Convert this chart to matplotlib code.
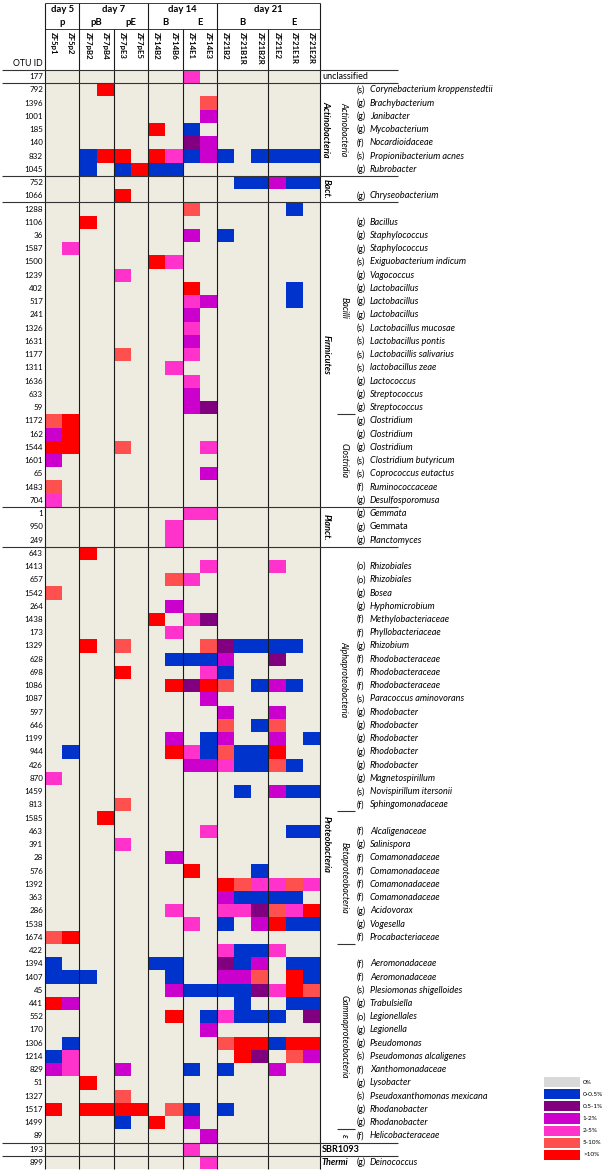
import numpy as np
import matplotlib
matplotlib.use('Agg')
import matplotlib.pyplot as plt
from matplotlib.colors import ListedColormap, BoundaryNorm

plt.rcParams['font.family'] = ['Lato', 'DejaVu Sans']

#%% Datos
days = ['day 5', 'day 7', 'day 14', 'day 21']
day_ncols = [2, 4, 4, 6]
treatments = ['p', 'pB', 'pE', 'B', 'E', 'B', 'E']
treatment_ncols = [2, 2, 2, 2, 2, 3, 3]
samples = ['ZF5p1', 'ZF5p2', 'ZF7pB2', 'ZF7pB4', 'ZF7pE3', 'ZF7pE5',
           'ZF14B2', 'ZF14B6', 'ZF14E1', 'ZF14E3',
           'ZF21B2', 'ZF21B1R', 'ZF21B2R', 'ZF21E2', 'ZF21E1R', 'ZF21E2R']

phyla = ['unclassified', 'Actinobacteria', 'Bact.', 'Firmicutes', 'Planct.',
         'Proteobacteria', 'SBR1093', 'Thermi']
phylum_nrows = [1, 7, 2, 23, 3, 45, 1, 1]

classes = ['', 'Actinobacteria', '', 'Bacilli', 'Clostridia', '',
           'Alphaproteobacteria', 'Betaproteobacteria', 'Gammaproteobacteria',
           'ε', '', '']
class_nrows = [1, 7, 2, 16, 7, 3, 20, 10, 14, 1, 1, 1]

otu_ids = ['177', '792', '1396', '1001', '185', '140', '832', '1045', '752', '1066',
           '1288', '1106', '36', '1587', '1500', '1239', '402', '517', '241', '1326',
           '1631', '1177', '1311', '1636', '633', '59', '1172', '162', '1544', '1601',
           '65', '1483', '704', '1', '950', '249', '643', '1413', '657', '1542',
           '264', '1438', '173', '1329', '628', '698', '1086', '1087', '597', '646',
           '1199', '944', '426', '870', '1459', '813', '1585', '463', '391', '28',
           '576', '1392', '363', '286', '1538', '1674', '422', '1394', '1407', '45',
           '441', '552', '170', '1306', '1214', '829', '51', '1327', '1517', '1499',
           '89', '193', '899']

ranks = ['', '(s)', '(g)', '(g)', '(g)', '(f)', '(s)', '(g)', '', '(g)',
         '', '(g)', '(g)', '(g)', '(s)', '(g)', '(g)', '(g)', '(g)', '(s)',
         '(s)', '(s)', '(s)', '(g)', '(g)', '(g)', '(g)', '(g)', '(g)', '(s)',
         '(s)', '(f)', '(g)', '(g)', '(g)', '(g)', '', '(o)', '(o)', '(g)',
         '(g)', '(f)', '(f)', '(g)', '(f)', '(f)', '(f)', '(s)', '(g)', '(g)',
         '(g)', '(g)', '(g)', '(g)', '(s)', '(f)', '', '(f)', '(g)', '(f)',
         '(f)', '(f)', '(f)', '(g)', '(g)', '(f)', '', '(f)', '(f)', '(s)',
         '(g)', '(o)', '(g)', '(g)', '(s)', '(f)', '(g)', '(s)', '(g)', '(g)',
         '(f)', '', '(g)']

taxa = ['', 'Corynebacterium kroppenstedtii', 'Brachybacterium', 'Janibacter',
        'Mycobacterium', 'Nocardioidaceae', 'Propionibacterium acnes', 'Rubrobacter',
        '', 'Chryseobacterium',
        '', 'Bacillus', 'Staphylococcus', 'Staphylococcus', 'Exiguobacterium indicum',
        'Vagococcus', 'Lactobacillus', 'Lactobacillus', 'Lactobacillus',
        'Lactobacillus mucosae', 'Lactobacillus pontis', 'Lactobacillis salivarius',
        'lactobacillus zeae', 'Lactococcus', 'Streptococcus', 'Streptococcus',
        'Clostridium', 'Clostridium', 'Clostridium', 'Clostridium butyricum',
        'Coprococcus eutactus', 'Ruminococcaceae', 'Desulfosporomusa',
        'Gemmata', 'Gemmata', 'Planctomyces',
        '', 'Rhizobiales', 'Rhizobiales', 'Bosea', 'Hyphomicrobium',
        'Methylobacteriaceae', 'Phyllobacteriaceae', 'Rhizobium', 'Rhodobacteraceae',
        'Rhodobacteraceae', 'Rhodobacteraceae', 'Paracoccus aminovorans', 'Rhodobacter',
        'Rhodobacter', 'Rhodobacter', 'Rhodobacter', 'Rhodobacter', 'Magnetospirillum',
        'Novispirillum itersonii', 'Sphingomonadaceae',
        '', 'Alcaligenaceae', 'Salinispora', 'Comamonadaceae', 'Comamonadaceae',
        'Comamonadaceae', 'Comamonadaceae', 'Acidovorax', 'Vogesella',
        'Procabacteriaceae',
        '', 'Aeromonadaceae', 'Aeromonadaceae', 'Plesiomonas shigelloides',
        'Trabulsiella', 'Legionellales', 'Legionella', 'Pseudomonas',
        'Pseudomonas alcaligenes', 'Xanthomonadaceae', 'Lysobacter',
        'Pseudoxanthomonas mexicana', 'Rhodanobacter', 'Rhodanobacter',
        'Helicobacteraceae', '', 'Deinococcus']
# el segundo Gemmata no esta en cursiva en la figura original
upright_taxa_rows = [34]

# clase de abundancia por muestra: 0=0%, 1=0-0.5%, 2=0.5-1%, 3=1-2%, 4=2-5%, 5=5-10%, 6=>10%
abundance = ['0000000040000000', '0006000000000000', '0000000005000000', '0000000003000000',
             '0000006010000000', '0000000023000000', '0016606413101111', '0010161100000000',
             '0000000000011311', '0000600000000000',
             '0000000050000010', '0060000000000000', '0000000030100000', '0400000000000000',
             '0000006400000000', '0000400000000000', '0000000060000010', '0000000043000010',
             '0000000030000000', '0000000040000000', '0000000030000000', '0000500040000000',
             '0000000400000000', '0000000040000000', '0000000030000000', '0000000032000000',
             '5600000000000000', '3600000000000000', '6600500004000000', '3000000000000000',
             '0000000003000000', '5000000000000000', '4000000000000000',
             '0000000044000000', '0000000400000000', '0000000400000000',
             '0060000000000000', '0000000004000400', '0000000540000000', '5000000000000000',
             '0000000300000000', '0000006042000000', '0000000400000000', '0060500005211110',
             '0000000111300200', '0000600004100000', '0000000626501310', '0000000003000000',
             '0000000000300300', '0000000000501500', '0000000301300301', '0100000641511600',
             '0000000033411510', '4000000000000000', '0000000000010311', '0000500000000000',
             '0006000000000000', '0000000004000011', '0000400000000000', '0000000300000000',
             '0000000060001000', '0000000000654454', '0000000000311110', '0000000400442546',
             '0000000040103611', '5600000000000000',
             '0000000000411400', '1000001100213011', '1110000100335061', '0000000311112465',
             '6300000000010011', '0000000601411102', '0000000003000000', '0100000000566166',
             '1400000000062053', '3400300010100300', '0060000000000000', '0000500000000000',
             '6066660510100000', '0000106030000000',
             '0000000003000000', '0000000040000000', '0000000004000000']

legend_labels = ['0%', '0-0.5%', '0.5-1%', '1-2%', '2-5%', '5-10%', '>10%']

#%% Estilo
cell_colors = ['#EEECE1', '#0033CC', '#800080', '#CC00CC', '#FF33CC', '#FF5050', '#FF0000']
legend_colors = ['#D9D9D9'] + cell_colors[1:]
cmap = ListedColormap(cell_colors)
norm = BoundaryNorm(np.arange(-0.5, 7.5, 1), cmap.N)

W, H = 609, 1172
left_px, right_px, top_px, bottom_px = 45, 320, 70, 1169
n_rows, n_cols = len(otu_ids), len(samples)
CW = (right_px - left_px) / n_cols
RH = (bottom_px - top_px) / n_rows

def xd(px):
    """pixel horizontal -> coordenada de datos"""
    return (px - left_px) / CW

def yd(py):
    """pixel vertical -> coordenada de datos"""
    return (py - top_px) / RH

fig = plt.figure(figsize=(W / 100, H / 100), dpi=100)
ax = fig.add_axes([left_px / W, 1 - bottom_px / H, (right_px - left_px) / W,
                   (bottom_px - top_px) / H])

matriz = np.array([[int(c) for c in fila] for fila in abundance])
ax.pcolormesh(np.arange(n_cols + 1), np.arange(n_rows + 1), matriz,
              cmap=cmap, norm=norm, shading='flat')
ax.set_xlim(0, n_cols)
ax.set_ylim(n_rows, 0)
ax.axis('off')

lc = '#1a1a1a'
y_top, y_sub = yd(2.5), yd(29)

# lineas verticales del encabezado y la grilla
day_bounds = np.concatenate([[0], np.cumsum(day_ncols)])
trt_bounds = np.concatenate([[0], np.cumsum(treatment_ncols)])
sub_only = [b for b in trt_bounds if b not in day_bounds]
ax.vlines(day_bounds, y_top, n_rows, color=lc, lw=0.8, clip_on=False)
ax.vlines(sub_only, y_sub, n_rows, color=lc, lw=0.8, clip_on=False)
ax.hlines([y_top, y_sub], 0, n_cols, color=lc, lw=0.6, clip_on=False)

# textos del encabezado
for i, d in enumerate(days):
    xc = (day_bounds[i] + day_bounds[i + 1]) / 2
    ax.text(xc, yd(10), d, ha='center', va='center', fontsize=6.8, fontweight='bold')
for i, t in enumerate(treatments):
    xc = (trt_bounds[i] + trt_bounds[i + 1]) / 2
    ax.text(xc, yd(22.5), t, ha='center', va='center', fontsize=6.8, fontweight='bold')
for j, s in enumerate(samples):
    ax.text(j + 0.5, yd(32), s, ha='center', va='top', rotation=270,
            fontsize=5.6, fontweight='bold')
ax.text(xd(43), yd(63), 'OTU ID', ha='right', va='center', fontsize=6.3)

# OTU ids y taxones
for i in range(n_rows):
    yc = i + 0.5
    ax.text(xd(43), yc, otu_ids[i], ha='right', va='center', fontsize=5.8)
    if taxa[i]:
        ax.text(xd(357), yc, ranks[i], ha='left', va='center', fontsize=6.3)
        estilo = 'normal' if i in upright_taxa_rows else 'italic'
        ax.text(xd(370), yc, taxa[i], ha='left', va='center', fontsize=6.6,
                style=estilo)

# filos
phy_bounds = np.concatenate([[0], np.cumsum(phylum_nrows)])
ax.hlines(phy_bounds[:-1], xd(2), xd(398), color='#333333', lw=0.8, clip_on=False)
for k, p in enumerate(phyla):
    yc = (phy_bounds[k] + phy_bounds[k + 1]) / 2
    if phylum_nrows[k] == 1:
        peso = 'normal' if p == 'unclassified' else 'bold'
        est = 'italic' if p == 'Thermi' else 'normal'
        ax.text(xd(322), yc, p, ha='left', va='center', fontsize=6.5,
                fontweight=peso, style=est)
    else:
        ax.text(xd(326), yc, p, ha='center', va='center', rotation=270,
                fontsize=6.5, fontweight='bold', style='italic')

# clases
cls_bounds = np.concatenate([[0], np.cumsum(class_nrows)])
for k, c in enumerate(classes):
    if c:
        yc = (cls_bounds[k] + cls_bounds[k + 1]) / 2
        ax.text(xd(344), yc, c, ha='center', va='center', rotation=270,
                fontsize=6.4, style='italic')
short = [b for b in cls_bounds[1:-1] if b not in phy_bounds]
ax.hlines(short, xd(337), xd(355), color='#333333', lw=0.8, clip_on=False)

#%% Leyenda
axl = fig.add_axes([543 / W, 1 - 1161 / H, 38 / W, 85 / H])
axl.pcolormesh(np.arange(2), np.arange(len(legend_labels) + 1),
               np.arange(len(legend_labels)).reshape(-1, 1),
               cmap=ListedColormap(legend_colors), edgecolors='white', linewidth=1.2)
axl.set_xlim(0, 1)
axl.set_ylim(len(legend_labels), 0)
axl.axis('off')
for k, lab in enumerate(legend_labels):
    axl.text(1.05, k + 0.5, lab, ha='left', va='center', fontsize=4.6)

fig.savefig('out.png', dpi=100)
